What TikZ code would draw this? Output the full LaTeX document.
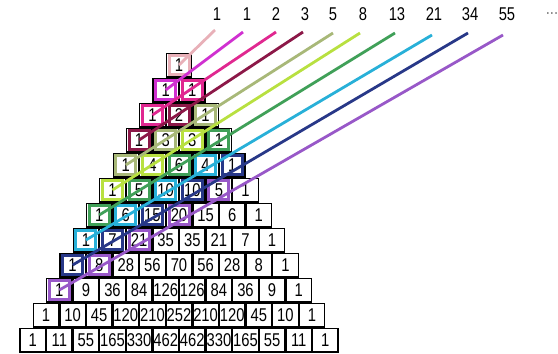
\documentclass[tikz,border=0pt]{standalone}
\usepackage{fontspec}
\setmainfont{Liberation Sans}[FakeStretch=0.8]
\definecolor{d0}{HTML}{E8B0B8}
\definecolor{d1}{HTML}{D030D0}
\definecolor{d2}{HTML}{E02890}
\definecolor{d3}{HTML}{8C1848}
\definecolor{d4}{HTML}{A8B878}
\definecolor{d5}{HTML}{B8E040}
\definecolor{d6}{HTML}{40A058}
\definecolor{d7}{HTML}{28B0D8}
\definecolor{d8}{HTML}{283888}
\definecolor{d9}{HTML}{9858C8}
\tikzset{
  cell/.style={draw=black, fill=white, line width=1.2pt, minimum width=25.4pt, minimum height=23.8pt, inner sep=0pt, font=\fontsize{18.5}{19}\selectfont},
  hl/.style={line width=3pt, minimum width=20pt, minimum height=19pt, inner sep=0pt},
  fib/.style={line width=2.8pt},
  lab/.style={inner sep=0pt, font=\fontsize{18.5}{19}\selectfont}
}
\begin{document}
\begin{tikzpicture}[x=1pt,y=1pt]
\useasboundingbox (0,0) rectangle (558,-354);
\foreach \r/\vals in {0/{1},1/{1,1},2/{1,2,1},3/{1,3,3,1},4/{1,4,6,4,1},5/{1,5,10,10,5,1},6/{1,6,15,20,15,6,1},7/{1,7,21,35,35,21,7,1},8/{1,8,28,56,70,56,28,8,1},9/{1,9,36,84,126,126,84,36,9,1},10/{1,10,45,120,210,252,210,120,45,10,1},11/{1,11,55,165,330,462,462,330,165,55,11,1}}{
  \foreach \v [count=\k from 0] in \vals {
    \node[cell] (c-\r-\k) at ({179+(\k-\r/2)*26.6},{-(65+25*\r)}) {\v};
  }
}
\foreach \n in {0,...,9}{
  \pgfmathtruncatemacro\kmax{\n/2}
  \foreach \k in {0,...,\kmax}{
    \pgfmathtruncatemacro\rr{\n-\k}
    \node[hl,draw=d\n] (h-\n-\k) at (c-\rr-\k) {};
  }
}
\foreach \n/\xl/\xt/\yt/\txt in {0/217/215/30/1,1/247/243/32/1,2/276/276/32/2,3/305/303/32/3,4/333/333/33/5,5/363/360/33/8,6/397/395/33/13,7/434/432/35/21,8/470/468/33/34,9/507/503/35/55}{
  \node[lab] (f-\n) at (\xl,-14) {\txt};
  \coordinate (t-\n) at (\xt,-\yt);
  \draw[fib,d\n] (c-\n-0.center) -- (t-\n);
}
\node[lab,text=gray] (f-dots) at (552,-14) {...};
\end{tikzpicture}
\end{document}
